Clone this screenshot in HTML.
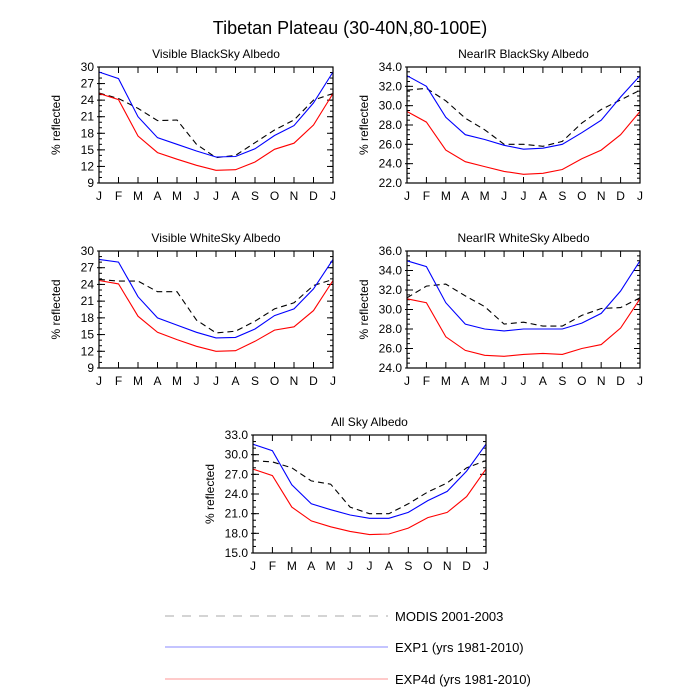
<!DOCTYPE html>
<html><head><meta charset="utf-8"><style>
html,body{margin:0;padding:0;background:#fff}
svg{display:block;font-family:"Liberation Sans",sans-serif}
</style></head><body>
<svg id="chart" width="700" height="700" viewBox="0 0 700 700" xmlns="http://www.w3.org/2000/svg">
<text x="350" y="34" text-anchor="middle" font-size="18">Tibetan Plateau (30-40N,80-100E)</text>
<g id="panels"></g>
<g>
<line x1="165" y1="616" x2="388" y2="616" stroke="#bbb" stroke-width="1.3" stroke-dasharray="9,8"/>
<text x="395" y="621" font-size="13">MODIS 2001-2003</text>
<line x1="165" y1="647" x2="388" y2="647" stroke="#8888ff" stroke-width="1"/>
<text x="395" y="652" font-size="13">EXP1 (yrs 1981-2010)</text>
<line x1="165" y1="679" x2="388" y2="679" stroke="#ffaaaa" stroke-width="1.3"/>
<text x="395" y="684" font-size="13">EXP4d (yrs 1981-2010)</text>
</g>
</svg>
<script>
const months = ["J","F","M","A","M","J","J","A","S","O","N","D","J"];
const titles = ["Visible BlackSky Albedo","NearIR BlackSky Albedo","Visible WhiteSky Albedo","NearIR WhiteSky Albedo","All Sky Albedo"];
const exp1P1 = [29.1,27.9,21,17.2,16,14.8,13.7,13.8,15.2,17.6,19.4,23.5,29.1];
const exp4dP1 = [25.2,24.1,17.5,14.5,13.3,12.2,11.3,11.4,12.8,15.1,16.2,19.5,25.2];
const modisP1 = [25.3,24.3,22.5,20.3,20.4,16,13.6,14,16.3,18.6,20.4,24,25.2];
const exp1P2 = [33.1,32,28.8,27,26.5,25.9,25.5,25.6,26,27.2,28.5,30.9,33.1];
const exp4dP2 = [29.4,28.3,25.4,24.2,23.7,23.2,22.9,23,23.4,24.5,25.4,27,29.4];
const modisP2 = [31.6,31.8,30.5,28.7,27.5,26,26,25.8,26.3,28.2,29.6,30.6,31.6];
const exp1P3 = [28.5,28,21.8,18,16.7,15.4,14.4,14.5,16,18.4,19.6,23.2,28.5];
const exp4dP3 = [24.7,24.1,18.3,15.4,14.1,12.9,12,12.1,13.8,15.8,16.4,19.3,24.7];
const modisP3 = [24.9,24.6,24.6,22.7,22.7,17.6,15.3,15.6,17.4,19.6,20.7,23.8,24.9];
const exp1P4 = [35,34.4,30.7,28.5,28,27.8,28,28,28,28.6,29.6,31.9,35];
const exp4dP4 = [31.1,30.7,27.2,25.8,25.3,25.2,25.4,25.5,25.4,26,26.4,28.1,31.1];
const modisP4 = [31.2,32.4,32.6,31.4,30.3,28.5,28.7,28.3,28.3,29.4,30.1,30.2,31.2];
const exp1P5 = [31.6,30.6,25.4,22.5,21.6,20.8,20.3,20.3,21.2,23,24.4,27.5,31.6];
const exp4dP5 = [27.8,26.8,22,19.9,19,18.3,17.8,17.9,18.8,20.4,21.2,23.6,27.8];
const modisP5 = [29.1,28.9,28,26,25.5,22,21,21,22.5,24.3,25.7,28,29.1];
const yTicks1 = ["9","12","15","18","21","24","27","30"];
const yTicks2 = ["22.0","24.0","26.0","28.0","30.0","32.0","34.0"];
const yTicks3 = ["9","12","15","18","21","24","27","30"];
const yTicks4 = ["24.0","26.0","28.0","30.0","32.0","34.0","36.0"];
const yTicks5 = ["15.0","18.0","21.0","24.0","27.0","30.0","33.0"];

const NS="http://www.w3.org/2000/svg";
const root=document.getElementById('panels');
function mk(tag,attrs,parent){const e=document.createElementNS(NS,tag);for(const k in attrs)e.setAttribute(k,attrs[k]);parent.appendChild(e);return e;}
const layout=[{x:99,y:67,w:234,h:116,minor:1},{x:407,y:67,w:233,h:116,minor:0.5},{x:99,y:251,w:234,h:117,minor:1},{x:407,y:251,w:233,h:117,minor:0.5},{x:253,y:435,w:233,h:118,minor:1}];
const series=[[modisP1,exp1P1,exp4dP1],[modisP2,exp1P2,exp4dP2],[modisP3,exp1P3,exp4dP3],[modisP4,exp1P4,exp4dP4],[modisP5,exp1P5,exp4dP5]];
const ticks=[yTicks1,yTicks2,yTicks3,yTicks4,yTicks5];
const sNames=["modis-line","exp1-line","exp4d-line"];
const sStyle=[{stroke:"#000",dash:"6,4"},{stroke:"#0000ff",dash:""},{stroke:"#ff0000",dash:""}];
layout.forEach((L,i)=>{
  const g=mk('g',{},root);
  
  
  const tk=ticks[i].map(Number);const ymin=tk[0],ymax=tk[tk.length-1];
  const xs=k=>L.x+k*L.w/(months.length-1);
  const ys=v=>L.y+L.h-(v-ymin)/(ymax-ymin)*L.h;
  const t=mk('text',{x:L.x+L.w/2,y:L.y-9,'text-anchor':'middle','font-size':12},g);t.textContent=titles[i];
  
  
  for(let v=ymin;v<=ymax+1e-9;v+=L.minor){const y=ys(v);
    mk('line',{x1:L.x,y1:y,x2:L.x+3,y2:y,stroke:'#000','stroke-width':1},g);
    mk('line',{x1:L.x+L.w,y1:y,x2:L.x+L.w-3,y2:y,stroke:'#000','stroke-width':1},g);}
  ticks[i].forEach(s=>{const y=ys(Number(s));
    mk('line',{x1:L.x-2,y1:y,x2:L.x+6,y2:y,stroke:'#000','stroke-width':1},g);
    mk('line',{x1:L.x+L.w,y1:y,x2:L.x+L.w-6,y2:y,stroke:'#000','stroke-width':1},g);
    const lt=mk('text',{x:L.x-5,y:y+4,'text-anchor':'end','font-size':12},g);lt.textContent=s;
    
    });
  months.forEach((m,k)=>{const x=xs(k);
    mk('line',{x1:x,y1:L.y+L.h,x2:x,y2:L.y+L.h-6,stroke:'#000','stroke-width':1},g);
    mk('line',{x1:x,y1:L.y,x2:x,y2:L.y+6,stroke:'#000','stroke-width':1},g);
    const xt=mk('text',{x:x,y:L.y+L.h+17,'text-anchor':'middle','font-size':12},g);xt.textContent=m;
    
    });
  const yl=mk('text',{x:0,y:0,'text-anchor':'middle','font-size':12,transform:`translate(${L.x-39},${L.y+L.h/2}) rotate(-90)`},g);yl.textContent='% reflected';
  
  
  series[i].forEach((d,j)=>{
    const p=mk('polyline',{points:d.map((v,k)=>xs(k).toFixed(1)+','+ys(v).toFixed(1)).join(' '),fill:'none',stroke:sStyle[j].stroke,'stroke-width':1.1},g);
    if(sStyle[j].dash)p.setAttribute('stroke-dasharray',sStyle[j].dash);
    
    
  });
  const fr=mk('rect',{x:L.x,y:L.y,width:L.w,height:L.h,fill:'none',stroke:'#000','stroke-width':1.2},g);
  
  
});
</script>
</body></html>
